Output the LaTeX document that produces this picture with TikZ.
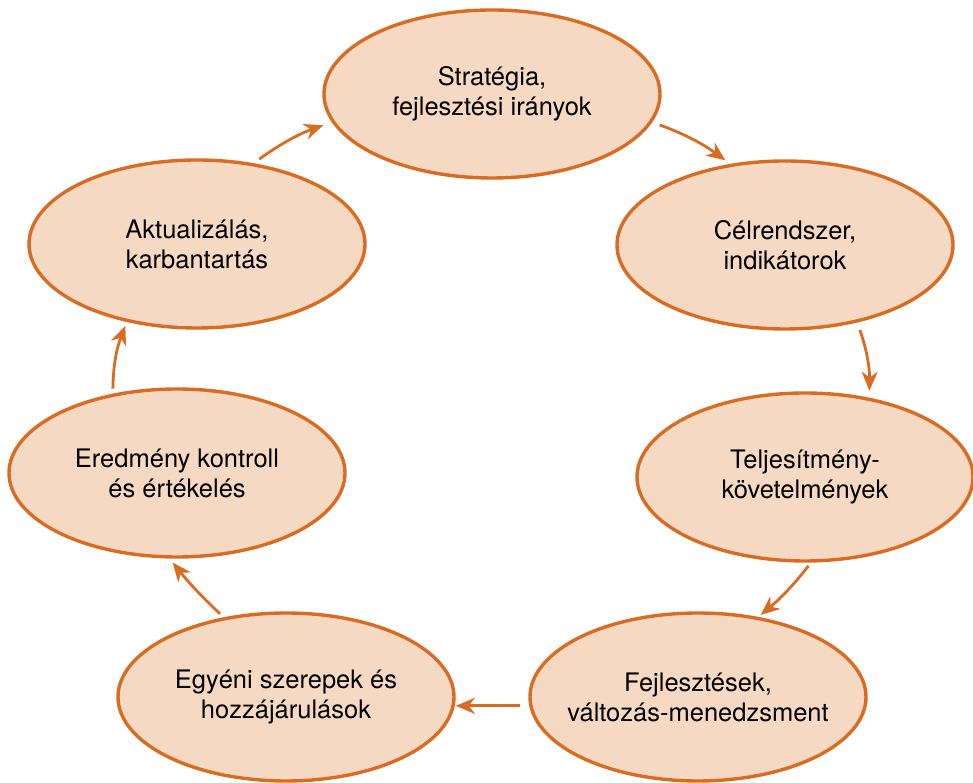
\documentclass[tikz,border=0pt]{standalone}
\usepackage{fontspec}
\setmainfont{TeX Gyre Heros}
\usepackage{tikz}
\usetikzlibrary{positioning, arrows.meta, shapes.geometric}
\usepackage{xcolor}
\definecolor{phasefill}{RGB}{246,217,195}
\definecolor{phaseline}{RGB}{217,108,35}

\begin{document}
\begin{tikzpicture}[
      % GLOBAL CFG
      x=1pt, y=1pt,
      font=\fontsize{25.5}{30}\selectfont,
      >={Stealth[length=19pt, width=16pt, inset=6pt]},
      % Styles
      phase/.style={% For the steps of the cycle
        ellipse,
        draw=phaseline,
        fill=phasefill,
        line width=3.4pt,
        align=center,
        inner xsep=-14pt,
        minimum width=336pt,
        minimum height=168pt
      },
      arrowcycle/.style={% Arrows between the steps
        draw=phaseline,
        line width=2.8pt,
        ->,
      }
      ]
      \useasboundingbox (0,0) rectangle (973,783);

      % Draw the steps:
      \node [phase] (strat) at (492,689) {Stratégia,\\fejlesztési irányok};
      \node [phase] (celok) at (785,538) {Célrendszer,\\indikátorok};
      \node [phase] (telj) at (805,306) {Teljesítmény-\\követelmények};
      \node [phase] (fejl) at (698,86) {Fejlesztések,\\változás-menedzsment};
      \node [phase] (egyeni) at (286,86) {Egyéni szerepek és\\hozzájárulások};
      \node [phase] (eredm) at (177,310) {Eredmény kontroll\\és értékelés};
      \node [phase] (aktual) at (197,539) {Aktualizálás,\\karbantartás};

      % Draw the arrows:
      \draw [arrowcycle, shorten <=7pt, shorten >=9pt] (aktual.55) to[bend left=8] (strat.190);
      \draw [arrowcycle, shorten <=8pt, shorten >=6pt] (strat.350) to[bend left=8] (celok.124);
      \draw [arrowcycle, shorten <=8pt, shorten >=7pt] (celok.313) to[bend left=10] (telj.51);
      \draw [arrowcycle, shorten <=4pt, shorten >=3pt] (telj.274) to[bend left=6] (fejl.53);
      \draw [arrowcycle, shorten <=9pt, shorten >=1pt] (fejl.183) -- (egyeni.357);
      \draw [arrowcycle, shorten <=5pt, shorten >=5pt] (egyeni.128) to[bend left=4] (eredm.265);
      \draw [arrowcycle, shorten <=5pt, shorten >=4pt] (eredm.129) to[bend left=10] (aktual.228);

    \end{tikzpicture}
\end{document}
